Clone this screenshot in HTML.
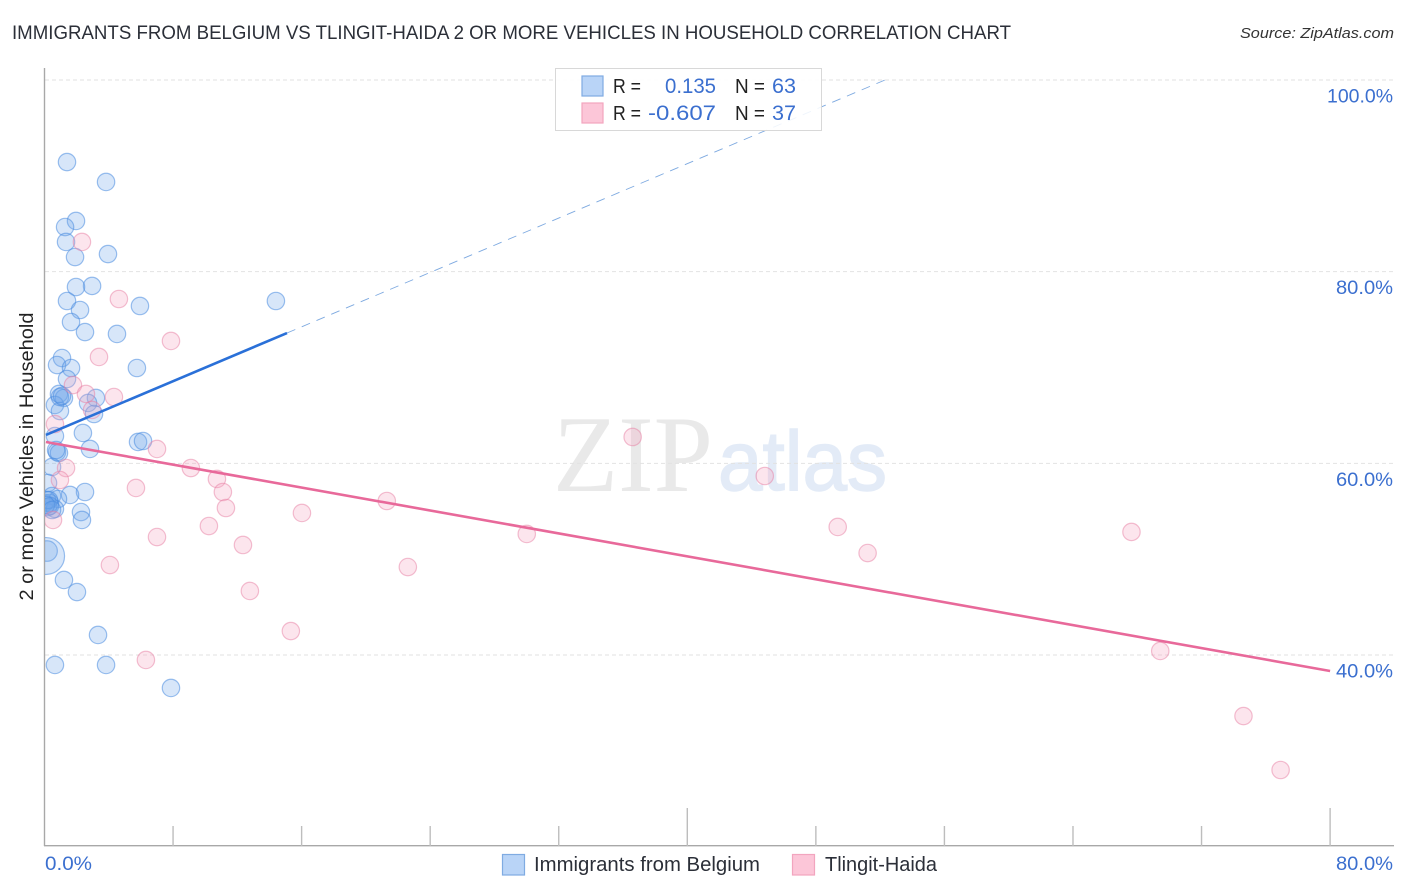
<!DOCTYPE html>
<html lang="en">
<head>
<meta charset="utf-8">
<title>Immigrants from Belgium vs Tlingit-Haida Correlation Chart</title>
<style>
html,body{margin:0;padding:0;background:#fff;width:1406px;height:892px;overflow:hidden}
svg{display:block;font-family:"Liberation Sans",sans-serif}
</style>
</head>
<body>
<svg id="chart" width="1406" height="892" viewBox="0 0 1406 892">
  <defs>
    <clipPath id="plot-clip"><rect x="45" y="60" width="1349" height="786"/></clipPath>
  </defs>
  <text x="12" y="39" font-size="19" fill="#2b2f38" textLength="999" lengthAdjust="spacingAndGlyphs">IMMIGRANTS FROM BELGIUM VS TLINGIT-HAIDA 2 OR MORE VEHICLES IN HOUSEHOLD CORRELATION CHART</text>
  <text x="1394" y="38" font-size="15" font-style="italic" fill="#333" text-anchor="end" textLength="154" lengthAdjust="spacingAndGlyphs">Source: ZipAtlas.com</text>

  <g>
    <text x="553" y="491" font-family="'Liberation Serif',serif" font-size="109" fill="#e9e9e9" textLength="160" lengthAdjust="spacingAndGlyphs">ZIP</text>
    <text x="718" y="490" font-size="84" fill="#e3ebf7" stroke="#e3ebf7" stroke-width="1.5" textLength="169" lengthAdjust="spacingAndGlyphs">atlas</text>
  </g>

  <g id="grid"></g>
  <g id="axes"></g>
  <g id="blue-points" clip-path="url(#plot-clip)"></g>
  <g id="pink-points" clip-path="url(#plot-clip)"></g>
  <g id="trends"></g>
  <g id="labels"></g>

  <text transform="translate(33,456.5) rotate(-90)" font-size="19.5" fill="#222" text-anchor="middle" textLength="288" lengthAdjust="spacingAndGlyphs">2 or more Vehicles in Household</text>

  <g>
    <rect x="555.5" y="68.5" width="266" height="62" fill="#fff" fill-opacity="0.88" stroke="#d8d8d8"/>
    <rect x="582" y="76" width="21" height="20" fill="#b9d4f7" stroke="#7fabe2" stroke-width="1.2"/>
    <rect x="582" y="103" width="21" height="20" fill="#fcc6d8" stroke="#f2a5bf" stroke-width="1.2"/>
    <g font-size="20" fill="#222">
      <text x="613" y="93" textLength="28" lengthAdjust="spacingAndGlyphs">R =</text>
      <text x="665" y="93" font-size="21.5" fill="#3b6fcf" textLength="51" lengthAdjust="spacingAndGlyphs">0.135</text>
      <text x="735" y="93" textLength="30" lengthAdjust="spacingAndGlyphs">N =</text>
      <text x="772" y="93" font-size="21.5" fill="#3b6fcf" textLength="24" lengthAdjust="spacingAndGlyphs">63</text>
      <text x="613" y="120" textLength="28" lengthAdjust="spacingAndGlyphs">R =</text>
      <text x="648" y="120" font-size="21.5" fill="#3b6fcf" textLength="68" lengthAdjust="spacingAndGlyphs">-0.607</text>
      <text x="735" y="120" textLength="30" lengthAdjust="spacingAndGlyphs">N =</text>
      <text x="772" y="120" font-size="21.5" fill="#3b6fcf" textLength="24" lengthAdjust="spacingAndGlyphs">37</text>
    </g>
  </g>

  <g>
    <g>
      <rect x="502.5" y="854.5" width="22" height="20.5" fill="#b9d4f7" stroke="#7fabe2" stroke-width="1.2"/>
      <text x="534" y="871" font-size="20" fill="#2b2f38" textLength="226" lengthAdjust="spacingAndGlyphs">Immigrants from Belgium</text>
    </g>
    <g>
      <rect x="792.5" y="854.5" width="22" height="20.5" fill="#fcc6d8" stroke="#f2a5bf" stroke-width="1.2"/>
      <text x="825" y="871" font-size="20" fill="#2b2f38" textLength="112" lengthAdjust="spacingAndGlyphs">Tlingit-Haida</text>
    </g>
  </g>
</svg>

<script>
const yTicks = [100, 80, 60, 40];
const yTickLabels = ["100.0%", "80.0%", "60.0%", "40.0%"];
const xTicks = [0, 8, 16, 24, 32, 40, 48, 56, 64, 72, 80];
const xTickLabels = ["0.0%", "80.0%"];
const xMajorTicks = [40, 80];

const blueX = [1.40,3.83,1.96,1.28,1.34,3.95,1.90,2.96,1.96,1.40,14.40,5.94,2.21,1.65,2.52,4.51,1.09,0.78,1.65,5.75,1.40,0.90,1.21,3.20,0.65,2.71,0.96,3.08,2.39,0.65,5.82,6.13,2.83,0.78,0.90,0.47,0.22,2.52,1.59,0.47,0.84,0.00,0.34,0.22,0.65,2.27,2.33,0.16,0.16,0.10,1.21,2.02,3.33,0.65,3.83,7.87,0.96,0.28,0.34,0.72,0.09,0.47,1.09];
const blueY = [91.44,89.36,85.29,84.66,83.10,81.84,81.53,78.51,78.40,76.94,76.94,76.42,76.00,74.75,73.70,73.50,70.99,70.26,69.95,69.95,68.80,67.24,66.82,66.82,66.09,66.30,65.46,65.15,63.17,62.85,62.23,62.33,61.50,61.18,61.08,59.62,57.95,57.01,56.70,56.59,56.28,55.86,55.86,55.44,55.24,54.92,54.09,56.17,50.85,50.33,47.83,46.57,42.09,38.96,38.96,36.56,66.92,56.17,55.55,61.39,55.65,55.13,67.03];
const blueWeight = [1,1,1,1,1,1,1,1,1,1,1,1,1,1,1,1,1,1,1,1,1,1,1,1,1,1,1,1,1,1,1,1,1,1,1,1,1,1,1,1,1,1,1,1,1,1,1,1,1.4,4.5,1,1,1,1,1,1,1,1,1,1,1,1,1];

const pinkX = [2.33,4.63,7.87,3.39,1.77,2.58,4.32,2.96,0.65,7.00,9.11,1.34,0.96,5.69,10.73,11.10,11.29,16.02,21.30,10.23,7.00,12.35,4.07,12.78,15.33,6.31,22.61,30.01,36.60,44.82,49.36,51.22,67.64,69.43,74.61,76.92,0.53];
const pinkY = [83.10,77.15,72.77,71.10,68.17,67.24,66.92,65.57,64.10,61.50,59.51,59.51,58.26,57.43,58.37,57.01,55.34,54.82,56.07,53.46,52.31,51.48,49.39,46.68,42.50,39.48,49.18,52.63,62.75,58.68,53.36,50.64,52.84,40.42,33.63,28.00,54.09];

const blueTrendX = [0.09, 15.09];
const blueTrendY = [62.96, 73.60];
const blueDashX = [15.09, 52.3];
const blueDashY = [73.60, 100];
const pinkTrendX = [0.09, 80];
const pinkTrendY = [62.23, 38.33];

const NS = "http://www.w3.org/2000/svg";
function xScale(v){ return 44.5 + v * 16.07; }
function yScale(v){ return 655 - (v - 40) * 9.583; }
function make(tag, attrs, parent){
  const el = document.createElementNS(NS, tag);
  for (const k in attrs) el.setAttribute(k, attrs[k]);
  parent.appendChild(el);
  return el;
}
const grid = document.getElementById("grid");
const axes = document.getElementById("axes");
const labels = document.getElementById("labels");
const bluePts = document.getElementById("blue-points");
const pinkPts = document.getElementById("pink-points");
const trends = document.getElementById("trends");

yTicks.forEach(function(t, i){
  const line = make("line", {x1:45, x2:1394, y1:yScale(t), y2:yScale(t), stroke:"#e2e2e2", "stroke-width":1, "stroke-dasharray":"4 3"}, grid);
  
  
  const label = make("text", {x:1393, y:yScale(t) + 22.5, "font-size":19.5, fill:"#3b6fcf", "text-anchor":"end", textLength: t === 100 ? 66 : 57, lengthAdjust:"spacingAndGlyphs"}, labels);
  label.textContent = yTickLabels[i];
  
  
});

const yAxis = make("line", {x1:44.5, x2:44.5, y1:68, y2:846, stroke:"#a8a8a8", "stroke-width":1.4}, axes);


const xAxis = make("line", {x1:44, x2:1394, y1:845.7, y2:845.7, stroke:"#a8a8a8", "stroke-width":1.4}, axes);



xTicks.slice(1).forEach(function(t){
  const top = xMajorTicks.indexOf(t) >= 0 ? 808 : 826;
  const tick = make("line", {x1:xScale(t), x2:xScale(t), y1:top, y2:846, stroke:"#bdbdbd", "stroke-width":1.4}, axes);
  
  
});

const xLabelLeft = make("text", {x:45, y:870, "font-size":19.5, fill:"#3b6fcf", textLength:47, lengthAdjust:"spacingAndGlyphs"}, labels);
xLabelLeft.textContent = xTickLabels[0];


const xLabelRight = make("text", {x:1393, y:870, "font-size":19.5, fill:"#3b6fcf", "text-anchor":"end", textLength:57, lengthAdjust:"spacingAndGlyphs"}, labels);
xLabelRight.textContent = xTickLabels[1];



blueX.forEach(function(v, i){
  const c = make("circle", {cx:xScale(v), cy:yScale(blueY[i]), r:8.7 * Math.sqrt(blueWeight[i]), fill:"#6ea6ea", "fill-opacity":0.28, stroke:"#4a8de0", "stroke-opacity":0.55, "stroke-width":1.2}, bluePts);
  
  
});
pinkX.forEach(function(v, i){
  const c = make("circle", {cx:xScale(v), cy:yScale(pinkY[i]), r:8.7, fill:"#f4a3bf", "fill-opacity":0.28, stroke:"#e87fa3", "stroke-opacity":0.5, "stroke-width":1.2}, pinkPts);
  
  
});

const dash = make("line", {x1:xScale(blueDashX[0]), y1:yScale(blueDashY[0]), x2:xScale(blueDashX[1]), y2:yScale(blueDashY[1]), stroke:"#5c93d8", "stroke-opacity":0.8, "stroke-width":0.9, "stroke-dasharray":"9 7"}, trends);


const blueTrend = make("line", {x1:xScale(blueTrendX[0]), y1:yScale(blueTrendY[0]), x2:xScale(blueTrendX[1]), y2:yScale(blueTrendY[1]), stroke:"#2a70d8", "stroke-width":2.6}, trends);


const pinkTrend = make("line", {x1:xScale(pinkTrendX[0]), y1:yScale(pinkTrendY[0]), x2:xScale(pinkTrendX[1]), y2:yScale(pinkTrendY[1]), stroke:"#e8699a", "stroke-width":2.6}, trends);


</script>
</body>
</html>
